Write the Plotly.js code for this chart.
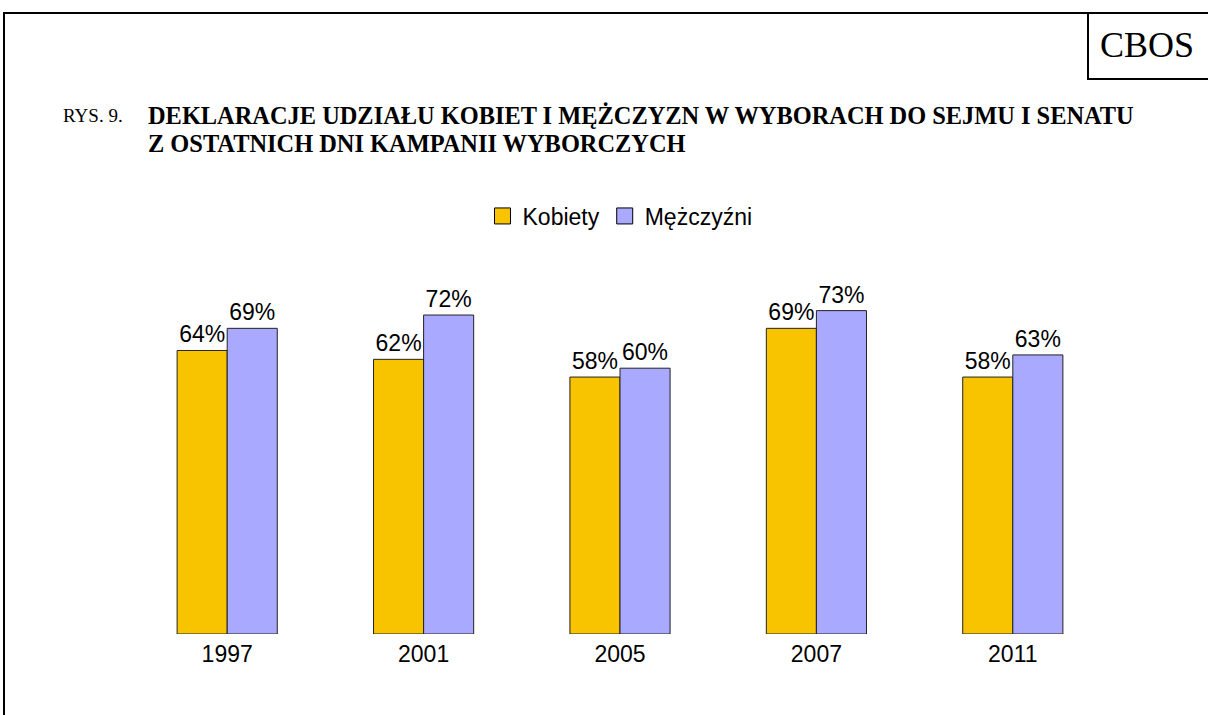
<!DOCTYPE html>
<html>
<head>
<meta charset="utf-8">
<script src="https://cdn.plot.ly/plotly-3.0.1.min.js"></script>
<style>html,body{margin:0;padding:0;background:#fff;}#chart{width:1208px;height:715px;}</style>
</head>
<body>
<div id="chart"></div>
<script>
const years = ['1997', '2001', '2005', '2007', '2011'];
const kobiety = [64, 62, 58, 69, 58];
const mezczyzni = [69, 72, 60, 73, 63];
const seriesNames = ['Kobiety', 'Mężczyźni'];
const seriesColors = ['#F8C400', '#A9A9FF'];
const titleLabel = 'RYS. 9.';
const titleLine1 = 'DEKLARACJE UDZIAŁU KOBIET I MĘŻCZYZN W WYBORACH DO SEJMU I SENATU';
const titleLine2 = 'Z OSTATNICH DNI KAMPANII WYBORCZYCH';
const logoText = 'CBOS';

const W = 1208, H = 715;
const M = {l: 129, r: 97, t: 191, b: 81};
const pw = W - M.l - M.r, ph = H - M.t - M.b;
const px = x => (x - M.l) / pw;
const py = y => (H - M.b - y) / ph;

const pct = v => v.map(d => d + '%');
const sans = 'Liberation Sans, Arial, sans-serif';
const labelFont = {family: sans, size: 23, color: '#000'};

const values = [kobiety, mezczyzni];
const traces = [];
values.forEach((vals, i) => {
  traces.push({type: 'bar', name: seriesNames[i], x: years, y: vals, text: pct(vals),
    textposition: 'outside', textfont: labelFont, constraintext: 'none', cliponaxis: false,
    marker: {color: seriesColors[i], line: {color: '#222', width: 1}},
    hoverinfo: 'none', showlegend: false, legendgroup: seriesNames[i]});
});
values.forEach((vals, i) => {
  traces.push({type: 'scatter', mode: 'markers', name: seriesNames[i], x: [null], y: [null],
    marker: {symbol: 'square', size: 16, color: seriesColors[i], line: {color: '#000', width: 1}},
    hoverinfo: 'none', showlegend: true, legendgroup: seriesNames[i]});
});

const serif = 'Liberation Serif, Times New Roman, serif';
const layout = {
  width: W, height: H,
  margin: M,
  paper_bgcolor: '#fff', plot_bgcolor: '#fff',
  barmode: 'group', bargap: 0.49, bargroupgap: 0,
  showlegend: true,
  legend: {orientation: 'h', x: 0.5, xanchor: 'center', y: py(216), yanchor: 'middle',
           font: {family: sans, size: 23, color: '#000'},
           itemwidth: 30, traceorder: 'normal', tracegroupgap: 0},
  xaxis: {type: 'category', showline: false, ticks: '', showgrid: false, zeroline: false,
          tickfont: labelFont, ticklabelstandoff: 4},
  yaxis: {range: [0, 100], visible: false, showgrid: false, zeroline: false},
  shapes: [
    {type: 'rect', xref: 'paper', yref: 'paper', x0: px(4), x1: px(1220), y0: py(13), y1: py(730),
     line: {color: '#000', width: 2}, fillcolor: 'rgba(0,0,0,0)', layer: 'above'},
    {type: 'rect', xref: 'paper', yref: 'paper', x0: px(1088), x1: px(1220), y0: py(13), y1: py(79),
     line: {color: '#000', width: 2}, fillcolor: 'rgba(0,0,0,0)', layer: 'above'}
  ],
  annotations: [
    {xref: 'paper', yref: 'paper', x: px(1147), y: py(45), xanchor: 'center', yanchor: 'middle',
     text: logoText, showarrow: false, font: {family: serif, size: 36, color: '#000'}},
    {xref: 'paper', yref: 'paper', x: px(61), y: py(115), xanchor: 'left', yanchor: 'middle',
     text: titleLabel, showarrow: false, font: {family: serif, size: 19, color: '#000'}},
    {xref: 'paper', yref: 'paper', x: px(146), y: py(115), xanchor: 'left', yanchor: 'middle',
     text: '<b>' + titleLine1 + '</b>', showarrow: false, font: {family: serif, size: 24.4, color: '#000'}},
    {xref: 'paper', yref: 'paper', x: px(146), y: py(143), xanchor: 'left', yanchor: 'middle',
     text: '<b>' + titleLine2 + '</b>', showarrow: false, font: {family: serif, size: 24.4, color: '#000'}}
  ]
};

Plotly.newPlot('chart', traces, layout, {staticPlot: true, displayModeBar: false});
</script>
</body>
</html>
